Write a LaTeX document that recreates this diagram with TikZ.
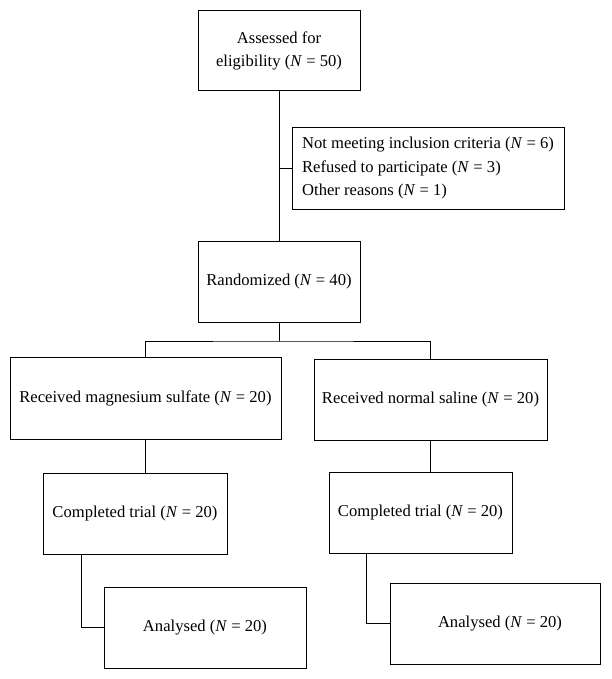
\documentclass[tikz,border=0pt]{standalone}
\usepackage{fontspec}
\setmainfont{Liberation Serif}
\begin{document}
\begin{tikzpicture}[x=1pt,y=-1pt,
  box/.style={draw=black, line width=1pt, rectangle, inner sep=0pt, align=center,
    font=\fontsize{16.6}{23.5}\selectfont},
  link/.style={draw=black, line width=1pt}]
\useasboundingbox (0,0) rectangle (611,679);
\node[box, minimum width=162pt, minimum height=80pt] (a) at (279,51) {Assessed for\\eligibility (\textit{N} = 50)};
\node[box, minimum width=272pt, minimum height=81pt, align=left] (b) at (428,168.5) {Not meeting inclusion criteria (\textit{N} = 6)\\Refused to participate (\textit{N} = 3)\\Other reasons (\textit{N} = 1)};
\node[box, minimum width=162pt, minimum height=81pt] (c) at (279,281.5) {Randomized (\textit{N} = 40)};
\node[box, minimum width=271pt, minimum height=82pt] (d) at (145.5,398) {Received magnesium sulfate (\textit{N} = 20)};
\node[box, minimum width=233pt, minimum height=81pt] (e) at (430.5,399.5) {Received normal saline (\textit{N} = 20)};
\node[box, minimum width=184pt, minimum height=81pt] (f) at (135,513.5) {Completed trial (\textit{N} = 20)};
\node[box, minimum width=183pt, minimum height=81pt] (g) at (420.5,512.5) {Completed trial (\textit{N} = 20)};
\node[box, minimum width=202pt, minimum height=81pt] (h) at (205,627.5) {Analysed (\textit{N} = 20)};
\node[box, minimum width=210pt, minimum height=81pt] (i) at (495,623.5) {\hspace{10pt}Analysed (\textit{N} = 20)};
\coordinate (jn) at (279,341);
\draw[link] (a.south) -- (c.north);
\draw[link] (b.west) -- (b.west -| a.south);
\draw[link] (c.south) -- (jn);
\draw[link] (d.north) |- (jn) -| (e.north);
\draw[link] (d.south) -- (d.south |- f.north);
\draw[link] (e.south) -- (e.south |- g.north);
\draw[link] ([xshift=-54pt]f.south) |- (h.west);
\draw[link] ([xshift=-54.5pt]g.south) |- (i.west);
\end{tikzpicture}
\end{document}
